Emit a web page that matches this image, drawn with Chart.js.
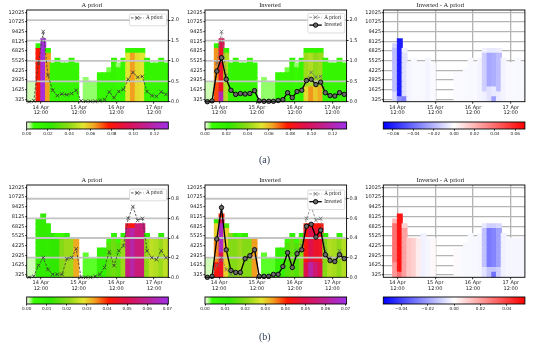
<!DOCTYPE html>
<html><head><meta charset="utf-8">
<script src="https://cdn.jsdelivr.net/npm/chart.js@4/dist/chart.umd.min.js"></script>
<style>
body{margin:0;background:#fff;width:547px;height:349px;overflow:hidden;position:relative}
canvas{position:absolute}
.lab{position:absolute;font-family:"Liberation Serif","DejaVu Serif",serif;font-size:10px;line-height:10px;color:#34405a}
</style></head><body>
<canvas id="pa1"></canvas><canvas id="pa2"></canvas><canvas id="pa3"></canvas>
<canvas id="ca1"></canvas><canvas id="ca2"></canvas><canvas id="ca3"></canvas>
<canvas id="pb1"></canvas><canvas id="pb2"></canvas><canvas id="pb3"></canvas>
<canvas id="cb1"></canvas><canvas id="cb2"></canvas><canvas id="cb3"></canvas>
<div class="lab" style="left:259px;top:155px">(a)</div>
<div class="lab" style="left:259px;top:332px">(b)</div>
<script>
// ---------------- DATA ----------------
// time columns: hours since 14 Apr 00:00 (3-hourly cells, centre of each cell)
const colHours = [4.5,7.5,10.5,13.5,16.5,19.5,22.5,25.5,28.5,31.5,34.5,37.5,40.5,43.5,46.5,49.5,52.5,55.5,58.5,61.5,64.5,67.5,70.5,73.5,76.5,79.5,82.5,85.5,88.5,91.5];
const tickHours = [12,36,60,84];
const tickDays = ['14 Apr','15 Apr','16 Apr','17 Apr'];
const tickTime = '12:00';
const levelBottoms = [0,650,1300,1950,2600,3250,3900,4550,5200,5850,6500,7150,7800,8450,9100,9750,10400,11050,11700];
const cellHeight = 650;
const altTicks = [325,1625,2925,4225,5525,6825,8125,9425,10725,12025];

// emission time series (right axis)
const emisA_prior = [0,0.02,0.95,1.72,0.65,0.28,0.15,0.19,0.17,0.2,0.28,0.02,0.01,0.01,0.01,0.03,0.05,0.24,0.1,0.25,0.3,0.55,0.72,0.6,0.62,0.25,0.15,0.13,0.24,0.18];
const emisA_inv   = [0,0.02,0.75,1.08,0.55,0.28,0.18,0.2,0.19,0.2,0.27,0.02,0.01,0.01,0.01,0.03,0.05,0.22,0.1,0.25,0.28,0.52,0.55,0.42,0.48,0.22,0.15,0.14,0.22,0.18];
const emisB_prior = [0,0.01,0.12,0.2,0.08,0.03,0.03,0.03,0.19,0.2,0.29,0,0,0,0.01,0.03,0.1,0.26,0.12,0.27,0.32,0.6,0.72,0.58,0.6,0.27,0.2,0.18,0.27,0.2];
const emisB_inv   = [0,0.01,0.39,0.71,0.28,0.07,0.05,0.05,0.19,0.22,0.28,0.01,0.01,0.01,0.03,0.03,0.11,0.25,0.1,0.24,0.28,0.52,0.54,0.41,0.48,0.23,0.17,0.16,0.23,0.19];
const y2A_ticks = [0,0.5,1,1.5,2];  const y2A_max = 2.25;
const y2B_ticks = [0,0.2,0.4,0.6,0.8]; const y2B_max = 0.94;

// vertical profiles per column: [value, number of 650 m cells] from the ground up
const heatA_prior = [
 [[0.0019,4]],[[0.0019,4]],[[0.078,11],[0.014,1]],[[0.13,13]],[[0.064,10],[0.014,1]],
 [[0.013,8]],[[0.013,9]],[[0.013,8]],[[0.013,8]],[[0.013,9]],
 [[0.013,8]],[],[[0.004,5]],[[0.004,4]],[[0.004,4]],
 [[0.012,6]],[[0.012,6]],[[0.012,6],[0.005,1]],[[0.013,9]],[[0.01,7],[0.004,1]],
 [[0.013,9]],[[0.053,10],[0.014,1]],[[0.064,10],[0.014,1]],[[0.055,10],[0.014,1]],[[0.053,10],[0.014,1]],
 [[0.013,9]],[[0.013,8]],[[0.013,8]],[[0.013,9]],[[0.013,8]]];
const heatA_inv = [
 [[0.0019,4]],[[0.0019,4]],[[0.072,4],[0.065,7],[0.014,1]],[[0.12,2],[0.085,9],[0.095,2]],[[0.045,10],[0.014,1]],
 [[0.013,8]],[[0.013,9]],[[0.013,8]],[[0.013,8]],[[0.013,9]],
 [[0.013,8]],[],[[0.004,5]],[[0.004,4]],[[0.004,4]],
 [[0.012,6]],[[0.012,6]],[[0.012,6],[0.005,1]],[[0.013,9]],[[0.01,7],[0.004,1]],
 [[0.013,9]],[[0.055,3],[0.042,7],[0.014,1]],[[0.065,3],[0.045,7],[0.014,1]],[[0.058,3],[0.04,7],[0.014,1]],[[0.062,3],[0.042,7],[0.014,1]],
 [[0.013,9]],[[0.013,8]],[[0.013,8]],[[0.013,9]],[[0.013,8]]];
const heatA_diff = [
 [],[],[[-0.01,2],[-0.018,9],[-0.012,1]],[[-0.03,1],[-0.062,12]],[[-0.035,1],[-0.008,9],[-0.004,1]],
 [[-0.003,8]],[[-0.002,9]],[[-0.0015,8]],[[-0.002,8]],[[-0.003,9]],
 [[-0.0015,8]],[],[],[],[],
 [[-0.001,6]],[[-0.001,6]],[[-0.0015,7]],[[-0.002,9]],[[-0.0015,8]],
 [[-0.003,9]],[[-0.004,2],[-0.013,8],[-0.004,1]],[[-0.008,3],[-0.024,7],[-0.006,1]],[[-0.026,1],[-0.006,2],[-0.022,7],[-0.006,1]],[[-0.005,2],[-0.018,8],[-0.005,1]],
 [[-0.003,9]],[[-0.0015,8]],[[-0.0015,8]],[[-0.002,9]],[[-0.002,8]]];
const heatB_prior = [
 [[0.0009,4]],[[0.0009,4]],[[0.01,12]],[[0.011,13]],[[0.01,11]],
 [[0.012,9]],[[0.012,8],[0.004,1]],[[0.02,8],[0.004,1]],[[0.022,8],[0.01,1]],[[0.022,8]],
 [[0.033,8]],[],[[0.003,5]],[[0.003,4]],[[0.003,4]],
 [[0.009,6]],[[0.009,6]],[[0.016,7],[0.004,1]],[[0.018,8],[0.009,1]],[[0.016,7],[0.004,1]],
 [[0.022,8],[0.009,1]],[[0.057,10],[0.045,1]],[[0.062,10],[0.042,1]],[[0.056,11]],[[0.056,11]],
 [[0.021,8],[0.01,1]],[[0.025,8]],[[0.024,8]],[[0.022,8],[0.01,1]],[[0.025,8]]];
const heatB_inv = [
 [[0.0009,4]],[[0.0009,4]],[[0.042,3],[0.035,5],[0.03,3],[0.01,1]],[[0.045,3],[0.05,2],[0.066,6],[0.05,1],[0.04,1]],[[0.03,10],[0.015,1]],
 [[0.02,9]],[[0.02,8],[0.008,1]],[[0.022,8],[0.005,1]],[[0.02,8],[0.01,1]],[[0.02,8]],
 [[0.034,8]],[],[[0.003,5]],[[0.003,4]],[[0.003,4]],
 [[0.009,6]],[[0.009,6]],[[0.015,7],[0.004,1]],[[0.017,8],[0.009,1]],[[0.015,7],[0.004,1]],
 [[0.02,8],[0.009,1]],[[0.05,3],[0.043,7],[0.04,1]],[[0.062,3],[0.05,7],[0.042,1]],[[0.055,3],[0.046,7],[0.042,1]],[[0.05,3],[0.045,7],[0.042,1]],
 [[0.02,8],[0.01,1]],[[0.024,8]],[[0.023,8]],[[0.021,8],[0.01,1]],[[0.024,8]]];
const heatB_diff = [
 [],[],[[0.022,3],[0.03,8],[0.015,1]],[[0.03,1],[0.05,12]],[[0.02,10],[0.01,1]],
 [[0.012,8]],[[0.01,8]],[[0.004,8]],[[-0.003,9]],[[-0.002,8]],
 [[0.0015,8]],[],[],[],[],
 [[0.001,6]],[[-0.001,6]],[[-0.0015,7]],[[-0.0015,9]],[[-0.0015,8]],
 [[-0.002,9]],[[-0.006,2],[-0.013,8],[-0.005,1]],[[-0.012,2],[-0.028,8],[-0.01,1]],[[-0.03,1],[-0.012,1],[-0.026,8],[-0.01,1]],[[-0.01,2],[-0.02,8],[-0.008,1]],
 [[-0.003,9]],[[-0.002,8]],[[-0.002,8]],[[-0.002,8]],[[-0.002,8]]];

// colour scales
const cmapMain = [[0,'#f2ffe8'],[0.02,'#c0ffa0'],[0.05,'#38ff00'],[0.17,'#30e800'],[0.3,'#90d818'],[0.4,'#e2e630'],[0.48,'#f2a020'],[0.58,'#ff1800'],[0.7,'#e0104a'],[0.84,'#c02090'],[1,'#a030e8']];
const cmapDiff = [[0,'#0000ff'],[0.5,'#ffffff'],[1,'#ff0000']];
const cbA_ticks = [0,0.02,0.04,0.06,0.08,0.10,0.12]; const cbA_range = [0,0.133];
const cbAd_ticks = [-0.06,-0.04,-0.02,0,0.02,0.04,0.06]; const cbAd_range = [-0.0695,0.0695];
const cbB_ticks = [0,0.01,0.02,0.03,0.04,0.05,0.06,0.07]; const cbB_range = [0,0.0705];
const cbBd_ticks = [-0.04,-0.02,0,0.02,0.04]; const cbBd_range = [-0.0537,0.0537];

// ---------------- RENDER ----------------
const SANS = "'DejaVu Sans', sans-serif";
const SERIF = "'Liberation Serif','DejaVu Serif', serif";
function hexToRgb(h){return [parseInt(h.slice(1,3),16),parseInt(h.slice(3,5),16),parseInt(h.slice(5,7),16)];}
function colorAt(stops,f){
  f=Math.max(0,Math.min(1,f));
  for(let i=1;i<stops.length;i++){
    if(f<=stops[i][0]){
      const [f0,c0]=stops[i-1],[f1,c1]=stops[i];
      const t=(f-f0)/((f1-f0)||1); const a=hexToRgb(c0),b=hexToRgb(c1);
      return 'rgb('+a.map((v,j)=>Math.round(v+(b[j]-v)*t)).join(',')+')';
    }
  }
  return stops[stops.length-1][1];
}
function heatDatasets(matrix,cmap,range){
  const sets = levelBottoms.map(()=>[]);
  matrix.forEach((col,i)=>{
    let k=0;
    col.forEach(([v,n])=>{
      for(let j=0;j<n;j++,k++){
        sets[k].push({x:colHours[i],y:[levelBottoms[k],levelBottoms[k]+cellHeight],c:colorAt(cmap,(v-range[0])/(range[1]-range[0]))});
      }
    });
  });
  return sets.filter(s=>s.length).map(s=>({type:'bar',data:s,yAxisID:'y',xAxisID:'x',
    backgroundColor:ctx=>ctx.raw?ctx.raw.c:'transparent',borderWidth:0,grouped:false,
    barPercentage:1,categoryPercentage:1,inflateAmount:0.6,order:2}));
}
const frame = {id:'frame',afterDraw(chart){
  const a=chart.chartArea,c=chart.ctx; c.save(); c.strokeStyle='#000'; c.lineWidth=0.9;
  c.strokeRect(a.left,a.top,a.right-a.left,a.bottom-a.top); c.restore();}};
const midGrid = {id:'midGrid',
  beforeDraw(chart){chart.$mg=false;},
  beforeDatasetDraw(chart,args){
    if(chart.$mg||args.meta.type!=='line'||!chart.scales.y2) return;
    chart.$mg=true;
    const s=chart.scales.y2,a=chart.chartArea,c=chart.ctx;
    c.save(); c.strokeStyle='#c4c4c4'; c.lineWidth=1.8;
    s.ticks.forEach(t=>{ if(t.value<=s.min) return; const y=s.getPixelForValue(t.value);
      c.beginPath(); c.moveTo(a.left,y); c.lineTo(a.right,y); c.stroke();});
    c.restore();
  }};
const legendBox = {id:'legendBox',afterDraw(chart,args,o){
  if(!o||!o.items) return;
  const a=chart.chartArea,c=chart.ctx;
  const w=37,h=4+o.items.length*7.8, x0=a.right-1.8-w, y0=a.top+o.top;
  c.save();
  c.fillStyle='rgba(255,255,255,0.92)'; c.strokeStyle='#cfcfcf'; c.lineWidth=0.7;
  c.beginPath(); if(c.roundRect) c.roundRect(x0,y0,w,h,1.5); else c.rect(x0,y0,w,h); c.fill(); c.stroke();
  o.items.forEach((it,j)=>{
    const ds=chart.data.datasets[it.ds]; const yy=y0+3.9+j*7.8; const xm=x0+7.8;
    c.strokeStyle=ds.borderColor; c.lineWidth=ds.borderWidth; c.setLineDash(ds.borderDash||[]);
    c.beginPath(); c.moveTo(x0+1.5,yy); c.lineTo(x0+14,yy); c.stroke(); c.setLineDash([]);
    const r=ds.pointRadius; c.lineWidth=ds.pointBorderWidth; c.strokeStyle=ds.pointBorderColor;
    if(ds.pointStyle==='circle'){ c.fillStyle=ds.pointBackgroundColor; c.beginPath(); c.arc(xm,yy,r,0,Math.PI*2); c.fill(); c.stroke(); }
    else { const d=r*0.8; c.beginPath(); c.moveTo(xm-d,yy-d); c.lineTo(xm+d,yy+d); c.moveTo(xm-d,yy+d); c.lineTo(xm+d,yy-d); c.stroke(); }
    c.fillStyle='#222'; c.font='5.2px '+SERIF; c.textBaseline='middle'; c.textAlign='left';
    c.fillText(it.label,x0+16.5,yy);
  });
  c.restore();}};

function lineDS(label,vals,style){
  const base={type:'line',label,data:colHours.map((h,i)=>({x:h,y:vals[i]})),yAxisID:'y2',xAxisID:'x',order:0,tension:0,clip:4};
  if(style==='prior') return Object.assign(base,{borderColor:'#3a3a3a',borderWidth:0.8,borderDash:[2.5,1.5],pointStyle:'crossRot',pointRadius:2.5,pointBorderColor:'#3a3a3a',pointBorderWidth:0.8,pointBackgroundColor:'rgba(0,0,0,0)'});
  if(style==='prior2') return Object.assign(base,{borderColor:'#7a7a7a',borderWidth:0.8,borderDash:[2.5,1.5],pointStyle:'crossRot',pointRadius:2.5,pointBorderColor:'#6a6a6a',pointBorderWidth:0.8,pointBackgroundColor:'rgba(0,0,0,0)'});
  return Object.assign(base,{borderColor:'#000',borderWidth:1.3,pointStyle:'circle',pointRadius:2.2,pointBorderColor:'#000',pointBorderWidth:0.9,pointBackgroundColor:'#6a6a6a'});
}

const PL=[26.7,205,383.3], PW=141.6, CX=[0,178,356], CW=184;
function panel(id,o){
  const cv=document.getElementById(id);
  const cx=CX[o.col], lw=PL[o.col]-cx, rw=CW-lw-PW;
  cv.width=CW; cv.height=118; cv.style.left=cx+'px'; cv.style.top=o.top+'px';
  const datasets=[...(o.lines||[]),...heatDatasets(o.heat,o.cmap,o.range)];
  const diff=!!o.diff;
  const scales={
    x:{type:'linear',min:3,max:93,offset:false,position:'bottom',z:diff?1:0,
       afterBuildTicks:s=>{s.ticks=tickHours.map(v=>({value:v}));},
       afterFit:s=>{s.height=o.xh;},
       ticks:{callback:(v,i)=>[tickDays[i],tickTime],font:{family:SANS,size:5,lineHeight:1.1},color:'#222',padding:0.9,maxRotation:0,autoSkip:false},
       grid:{offset:false,drawOnChartArea:diff,color:'#b4b4b4',lineWidth:1.3,tickLength:2,tickColor:'#000',tickWidth:0.8},
       border:{display:false}},
    y:{type:'linear',min:0,max:12350,position:'left',z:diff?1:0,
       afterBuildTicks:s=>{s.ticks=altTicks.map(v=>({value:v}));},
       afterFit:s=>{s.width=lw;},
       ticks:{callback:v=>String(v),font:{family:SANS,size:5},color:'#222',padding:0.6,autoSkip:false},
       grid:{drawOnChartArea:diff,color:'#b4b4b4',lineWidth:1.3,tickLength:1.6,tickColor:'#000',tickWidth:0.8},
       border:{display:false}}
  };
  if(!diff){
    scales.y2={type:'linear',min:0,max:o.y2max,position:'right',
       afterBuildTicks:s=>{s.ticks=o.y2ticks.map(v=>({value:v}));},
       afterFit:s=>{s.width=rw;},
       ticks:{callback:v=>v.toFixed(1),font:{family:SANS,size:5},color:'#222',padding:0.8,autoSkip:false},
       grid:{drawOnChartArea:false,tickLength:2,tickColor:'#000',tickWidth:0.8},
       border:{display:false}};
  }
  new Chart(cv,{type:'bar',data:{datasets},
    options:{responsive:false,animation:false,devicePixelRatio:1,events:[],
      layout:{autoPadding:false,padding:{left:0,right:diff?rw:0,top:0,bottom:0}},
      scales,
      plugins:{legend:{display:false},tooltip:{enabled:false},
        title:{display:true,text:o.title,color:'#222',font:{family:SERIF,size:6.5,lineHeight:1.2,weight:'normal'},padding:{top:1.8,bottom:0.4}},
        legendBox:o.legend?{items:o.legend,top:o.legTop}:{}}},
    plugins:[midGrid,frame,legendBox]});
}
function cbar(id,o){
  const cv=document.getElementById(id);
  const cx=Math.floor(PL[o.col]-10), pl=PL[o.col]-cx, w=164, pr=w-pl-PW;
  cv.width=w; cv.height=20; cv.style.left=cx+'px'; cv.style.top=o.top+'px';
  const fmt=v=>(v<-1e-9?'\u2212':'')+Math.abs(v).toFixed(2);
  new Chart(cv,{type:'bar',
    data:{labels:[''],datasets:[{data:[o.range],borderWidth:0,borderSkipped:false,barPercentage:1,categoryPercentage:1,
      backgroundColor:ctx=>{const a=ctx.chart.chartArea; if(!a) return 'transparent';
        const g=ctx.chart.ctx.createLinearGradient(a.left,0,a.right,0); o.cmap.forEach(([f,c])=>g.addColorStop(f,c)); return g;}}]},
    options:{indexAxis:'y',responsive:false,animation:false,devicePixelRatio:1,events:[],
      layout:{autoPadding:false,padding:{left:pl,right:pr,top:2,bottom:0}},
      scales:{
        x:{type:'linear',min:o.range[0],max:o.range[1],
           afterBuildTicks:s=>{s.ticks=o.ticks.map(v=>({value:v}));},
           afterFit:s=>{s.height=11;},
           ticks:{callback:fmt,font:{family:SANS,size:4.2},color:'#222',padding:0.6,autoSkip:false,maxRotation:0},
           grid:{drawOnChartArea:false,tickLength:1.6,tickColor:'#000',tickWidth:0.8},border:{display:false}},
        y:{display:false}},
      plugins:{legend:{display:false},tooltip:{enabled:false}}},
    plugins:[frame]});
}

panel('pa1',{col:0,top:0,xh:16.3,title:'A priori',heat:heatA_prior,cmap:cmapMain,range:cbA_range,y2max:y2A_max,y2ticks:y2A_ticks,
  lines:[lineDS('A priori',emisA_prior,'prior')],legend:[{ds:0,label:'A priori'}],legTop:4});
panel('pa2',{col:1,top:0,xh:16.3,title:'Inverted',heat:heatA_inv,cmap:cmapMain,range:cbA_range,y2max:y2A_max,y2ticks:y2A_ticks,
  lines:[lineDS('Inverted',emisA_inv,'inv'),lineDS('A priori',emisA_prior,'prior2')],legend:[{ds:1,label:'A priori'},{ds:0,label:'Inverted'}],legTop:3.4});
panel('pa3',{col:2,top:0,xh:16.3,title:'Inverted - A priori',heat:heatA_diff,cmap:cmapDiff,range:cbAd_range,diff:true});
panel('pb1',{col:0,top:175,xh:15.7,title:'A priori',heat:heatB_prior,cmap:cmapMain,range:cbB_range,y2max:y2B_max,y2ticks:y2B_ticks,
  lines:[lineDS('A priori',emisB_prior,'prior')],legend:[{ds:0,label:'A priori'}],legTop:4});
panel('pb2',{col:1,top:175,xh:15.7,title:'Inverted',heat:heatB_inv,cmap:cmapMain,range:cbB_range,y2max:y2B_max,y2ticks:y2B_ticks,
  lines:[lineDS('Inverted',emisB_inv,'inv'),lineDS('A priori',emisB_prior,'prior2')],legend:[{ds:1,label:'A priori'},{ds:0,label:'Inverted'}],legTop:5});
panel('pb3',{col:2,top:175,xh:15.7,title:'Inverted - A priori',heat:heatB_diff,cmap:cmapDiff,range:cbBd_range,diff:true});

cbar('ca1',{col:0,top:120,range:cbA_range,ticks:cbA_ticks,cmap:cmapMain});
cbar('ca2',{col:1,top:120,range:cbA_range,ticks:cbA_ticks,cmap:cmapMain});
cbar('ca3',{col:2,top:120,range:cbAd_range,ticks:cbAd_ticks,cmap:cmapDiff});
cbar('cb1',{col:0,top:295,range:cbB_range,ticks:cbB_ticks,cmap:cmapMain});
cbar('cb2',{col:1,top:295,range:cbB_range,ticks:cbB_ticks,cmap:cmapMain});
cbar('cb3',{col:2,top:295,range:cbBd_range,ticks:cbBd_ticks,cmap:cmapDiff});
</script>
</body></html>
